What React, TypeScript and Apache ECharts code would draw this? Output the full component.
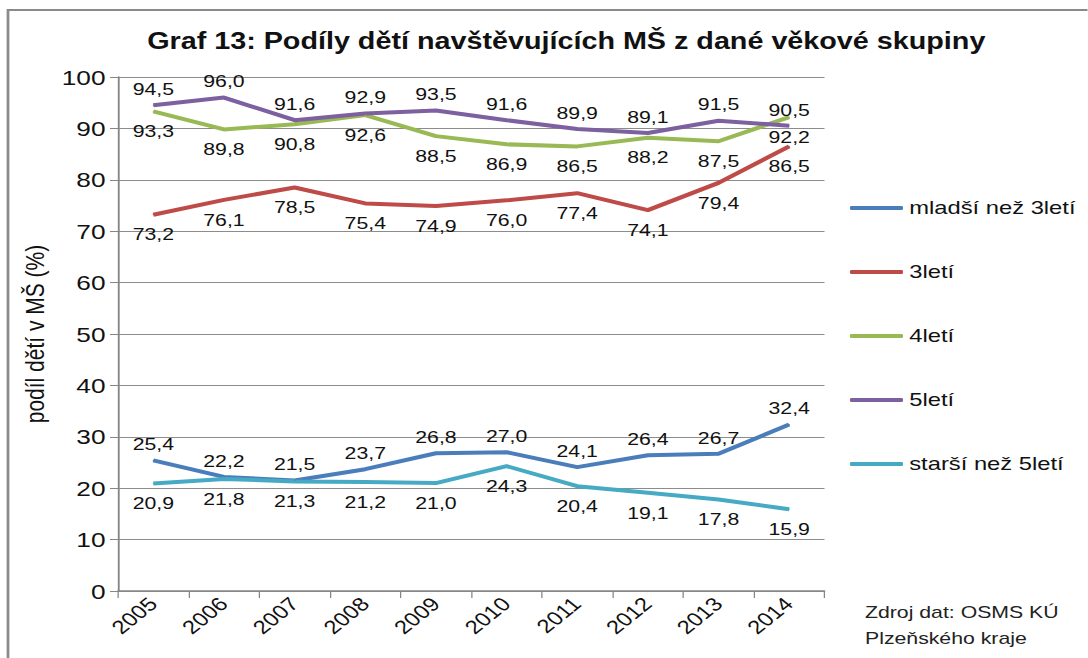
import React, { useEffect, useRef } from "react";
import * as echarts from "echarts";

const years = ["2005", "2006", "2007", "2008", "2009", "2010", "2011", "2012", "2013", "2014"];
const mladsi = [25.4, 22.2, 21.5, 23.7, 26.8, 27.0, 24.1, 26.4, 26.7, 32.4];
const tri = [73.2, 76.1, 78.5, 75.4, 74.9, 76.0, 77.4, 74.1, 79.4, 86.5];
const ctyri = [93.3, 89.8, 90.8, 92.6, 88.5, 86.9, 86.5, 88.2, 87.5, 92.2];
const pet = [94.5, 96.0, 91.6, 92.9, 93.5, 91.6, 89.9, 89.1, 91.5, 90.5];
const starsi = [20.9, 21.8, 21.3, 21.2, 21.0, 24.3, 20.4, 19.1, 17.8, 15.9];

const FONT = "'Liberation Sans', Arial, sans-serif";
const SX = 1.25;
const W = 1088 / SX;

function mk(name: string, data: number[], color: string, pos: "top" | "bottom") {
  return {
    name,
    type: "line",
    data,
    symbol: "circle",
    symbolSize: 1,
    showSymbol: true,
    lineStyle: { color, width: 4 },
    itemStyle: { color },
    label: {
      show: true,
      position: pos,
      distance: pos === "top" ? 7 : 11,
      color: "#111",
      fontSize: 17,
      fontFamily: FONT,
      formatter: (p: any) => Number(p.value).toFixed(1).replace(".", ","),
    },
  };
}

export default function App() {
  const ref = useRef<HTMLDivElement>(null);
  useEffect(() => {
    const chart = echarts.init(ref.current!, null, { renderer: "svg" });
    chart.setOption({
      animation: false,
      backgroundColor: "#fff",
      textStyle: { fontFamily: FONT },
      title: {
        text: "Graf 13: Podíly dětí navštěvujících MŠ z dané věkové skupiny",
        left: 560 / SX,
        textAlign: "center",
        top: 25,
        textStyle: { fontSize: 23, fontWeight: "bold", color: "#111", fontFamily: FONT },
      },
      grid: { left: 118 / SX, right: W - 825 / SX, top: 77, bottom: 67 },
      legend: {
        orient: "vertical",
        left: 850 / SX,
        top: 197,
        padding: 0,
        itemWidth: 53 / SX,
        itemHeight: 4,
        itemGap: 42,
        icon: "roundRect",
        textStyle: { fontSize: 19, color: "#111", fontFamily: FONT, lineHeight: 22 },
        data: ["mladší než 3letí", "3letí", "4letí", "5letí", "starší než 5letí"],
      },
      xAxis: {
        type: "category",
        data: years,
        boundaryGap: true,
        axisLine: { lineStyle: { color: "#868686", width: 1.5 } },
        axisTick: { show: true, length: 7, lineStyle: { color: "#868686" } },
        axisLabel: { rotate: 45, fontSize: 19, color: "#111", margin: 10, fontFamily: FONT },
      },
      yAxis: {
        type: "value",
        min: 0,
        max: 100,
        interval: 10,
        name: "podíl dětí v MŠ (%)",
        nameLocation: "middle",
        nameGap: 55,
        nameTextStyle: { fontSize: 21, color: "#111", fontFamily: FONT },
        axisLine: { show: true, lineStyle: { color: "#868686", width: 1.5 } },
        axisTick: { show: true, length: 6.4, lineStyle: { color: "#868686" } },
        axisLabel: { fontSize: 21, color: "#111", margin: 10, fontFamily: FONT },
        splitLine: { lineStyle: { color: "#8c8c8c", width: 1 } },
      },
      series: [
        mk("mladší než 3letí", mladsi, "#4A7EBB", "top"),
        mk("3letí", tri, "#BE4B48", "bottom"),
        mk("4letí", ctyri, "#98B954", "bottom"),
        mk("5letí", pet, "#7D60A0", "top"),
        mk("starší než 5letí", starsi, "#46AAC5", "bottom"),
      ],
      graphic: [
        {
          type: "rect",
          shape: { x: 8 / SX, y: 10, width: 1200, height: 800 },
          style: { fill: "none", stroke: "#8a8a8a", lineWidth: 2.2 },
          silent: true,
        },
        {
          type: "text",
          left: 865 / SX,
          top: 599,
          style: {
            text: "Zdroj dat: OSMS KÚ\nPlzeňského kraje",
            fontSize: 17,
            lineHeight: 26,
            fill: "#222",
            fontFamily: FONT,
          },
        },
      ],
    });
    return () => chart.dispose();
  }, []);
  return (
    <div style={{ position: "absolute", left: 0, top: 0, width: 1088, height: 658, overflow: "hidden" }}>
      <div
        ref={ref}
        style={{ width: W, height: 658, transform: `scaleX(${SX})`, transformOrigin: "0 0" }}
      />
    </div>
  );
}
